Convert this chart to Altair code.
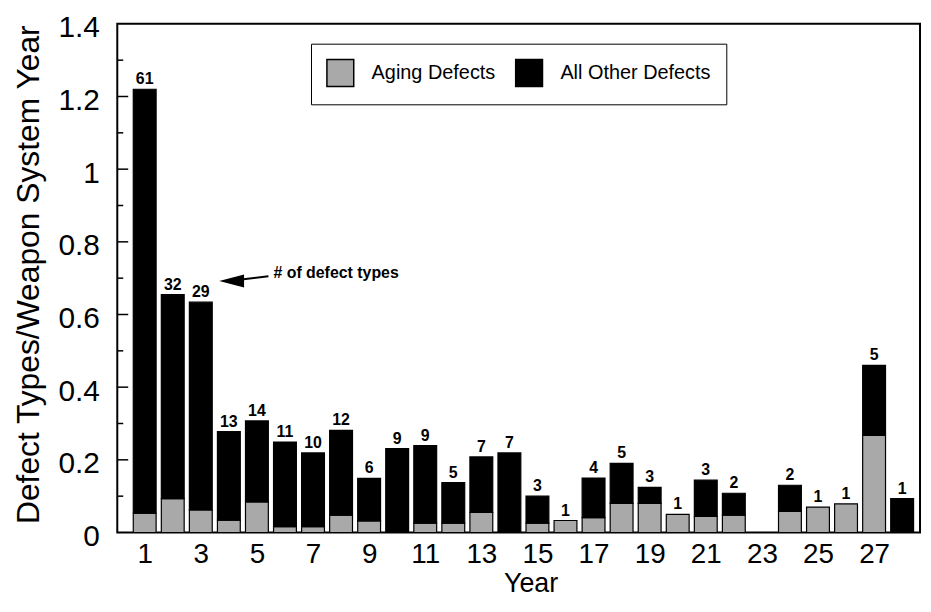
import altair as alt
import pandas as pd

# ---------------- data ----------------
years = list(range(1, 29))
total_rate = [1.22, 0.655, 0.634, 0.278, 0.307, 0.249, 0.219, 0.281, 0.149, 0.231,
              0.239, 0.137, 0.208, 0.219, 0.100, 0.033, 0.150, 0.190, 0.124, 0.050,
              0.144, 0.108, 0.0, 0.130, 0.070, 0.079, 0.460, 0.093]
aging_rate = [0.053, 0.093, 0.062, 0.034, 0.084, 0.016, 0.016, 0.048, 0.032, 0.0,
              0.026, 0.026, 0.055, 0.0, 0.026, 0.033, 0.041, 0.080, 0.080, 0.050,
              0.044, 0.048, 0.0, 0.058, 0.070, 0.079, 0.267, 0.0]
defect_types = [61, 32, 29, 13, 14, 11, 10, 12, 6, 9,
                9, 5, 7, 7, 3, 1, 4, 5, 3, 1,
                3, 2, None, 2, 1, 1, 5, 1]
series_names = ["Aging Defects", "All Other Defects"]
series_colors = ["#a9a9a9", "#000000"]
x_tick_values = [1, 3, 5, 7, 9, 11, 13, 15, 17, 19, 21, 23, 25, 27]
y_label_values = [0, 0.2, 0.4, 0.6, 0.8, 1.0, 1.2, 1.4]
y_major_ticks = [0.2, 0.4, 0.6, 0.8, 1.0, 1.2]
y_minor_ticks = [0.1, 0.3, 0.5, 0.7, 0.9, 1.1, 1.3]
annotation_text = ["# of defect types"]
annotation_x = [5.59]
annotation_y = [0.714]
arrow_x = [4.52, 5.41]
arrow_y = [0.697, 0.705]
arrowhead_x = [4.10]
arrowhead_y = [0.692]

FONT = "Liberation Sans"

# ---------------- tables ----------------
rows = []
for yr, tot, ag in zip(years, total_rate, aging_rate):
    if ag > 0:
        rows.append({"year": yr, "series": series_names[0], "y0": 0.0, "y1": ag})
    if tot > ag:
        rows.append({"year": yr, "series": series_names[1], "y0": ag, "y1": tot})
bar_df = pd.DataFrame(rows)

lab_df = pd.DataFrame({"year": years, "total": total_rate, "count": defect_types})
lab_df = lab_df.dropna()
lab_df["count"] = lab_df["count"].astype(int)

major_df = pd.DataFrame({"v": y_major_ticks})
minor_df = pd.DataFrame({"v": y_minor_ticks})
ann_df = pd.DataFrame({"year": annotation_x, "total": annotation_y, "t": annotation_text})
arrow_df = pd.DataFrame({"year": arrow_x, "total": arrow_y})
head_df = pd.DataFrame({"year": arrowhead_x, "total": arrowhead_y})

xscale = alt.Scale(domain=[0.2, 28.46], nice=False, zero=False)
yscale = alt.Scale(domain=[0, 1.4], nice=False)

bars = alt.Chart(bar_df).mark_bar(size=23, stroke="black", strokeWidth=1.2).encode(
    x=alt.X("year:Q", scale=xscale, title="Year",
            axis=alt.Axis(values=x_tick_values, ticks=False, tickSize=0, domain=False,
                          grid=False, labelFontSize=28, labelPadding=8, labelFlush=False,
                          titleFontSize=27, titleX=416, titleY=59,
                          titleBaseline="alphabetic", titleAlign="center")),
    y=alt.Y("y0:Q", scale=yscale, title="Defect Types/Weapon System Year",
            axis=alt.Axis(values=y_label_values, format="~g", ticks=False, tickSize=0,
                          domain=False, grid=False, labelFontSize=30, labelPadding=18,
                          labelOffset=4,
                          titleFontSize=32, titleX=-89, titleY=252, titleAngle=270,
                          titleAlign="center", titleBaseline="middle")),
    y2="y1:Q",
    color=alt.Color("series:N",
                    scale=alt.Scale(domain=series_names, range=series_colors),
                    legend=alt.Legend(title=None, orient="none", legendX=195, legendY=20,
                                      direction="horizontal", symbolType="square",
                                      symbolSize=729, symbolStrokeColor="black",
                                      symbolStrokeWidth=1.5, labelFontSize=20,
                                      labelFont=FONT, labelColor="black",
                                      labelOffset=17, columnPadding=17, padding=15,
                                      strokeColor="black", fillColor="white")),
)

major = alt.Chart(major_df).mark_rule(color="black", strokeWidth=1.5).encode(
    y=alt.Y("v:Q", scale=yscale), x=alt.value(0), x2=alt.value(11))
minor = alt.Chart(minor_df).mark_rule(color="black", strokeWidth=1.5).encode(
    y=alt.Y("v:Q", scale=yscale), x=alt.value(0), x2=alt.value(6))

labels = alt.Chart(lab_df).mark_text(dy=-5, baseline="alphabetic", fontSize=16,
                                     fontWeight="bold", font=FONT, color="black").encode(
    x=alt.X("year:Q", scale=xscale), y=alt.Y("total:Q", scale=yscale), text="count:Q")

ann = alt.Chart(ann_df).mark_text(align="left", baseline="middle", fontSize=16,
                                  fontWeight="bold", font=FONT, color="black").encode(
    x=alt.X("year:Q", scale=xscale), y=alt.Y("total:Q", scale=yscale), text="t:N")

arrow = alt.Chart(arrow_df).mark_line(color="black", strokeWidth=2).encode(
    x=alt.X("year:Q", scale=xscale), y=alt.Y("total:Q", scale=yscale))

head = alt.Chart(head_df).mark_point(shape="M -1 0 L 1 -0.52 L 1 0.52 Z", filled=True,
                                     color="black", size=625, opacity=1).encode(
    x=alt.X("year:Q", scale=xscale), y=alt.Y("total:Q", scale=yscale))

chart = alt.layer(bars, major, minor, labels, ann, arrow, head).properties(
    width=808, height=512,
    padding={"left": 110, "top": 14, "right": 3, "bottom": 64},
    autosize=alt.AutoSizeParams(type="none"),
    background="white",
).configure_view(stroke="black", strokeWidth=2).configure_axis(
    labelFont=FONT, titleFont=FONT, labelColor="black", titleColor="black",
    titleFontWeight="normal")

chart.save("out.html", embed_options={"renderer": "svg", "actions": False})
